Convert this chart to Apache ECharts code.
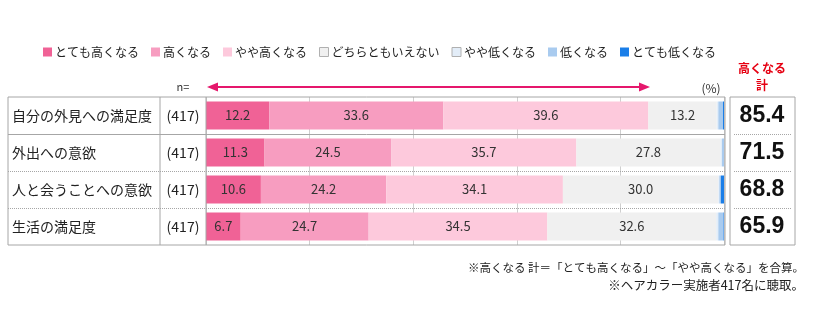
<!DOCTYPE html>
<html>
<head>
<meta charset="utf-8">
<script src="https://cdn.jsdelivr.net/npm/echarts@6/dist/echarts.min.js"></script>
<style>
  html, body { margin: 0; padding: 0; background: #fff; }
  #chart { width: 819px; height: 333px; }
</style>
</head>
<body>
<div id="chart"></div>
<script>
// Survey items (rows, top to bottom)
const categories = ['自分の外見への満足度', '外出への意欲', '人と会うことへの意欲', '生活の満足度'];
const sampleSizes = [417, 417, 417, 417];

// Answer shares (%) per response option
const seriesNames = ['とても高くなる', '高くなる', 'やや高くなる', 'どちらともいえない', 'やや低くなる', '低くなる', 'とても低くなる'];
const veryHigh   = [12.2, 11.3, 10.6, 6.7];
const high       = [33.6, 24.5, 24.2, 24.7];
const slightHigh = [39.6, 35.7, 34.1, 34.5];
const neutral    = [13.2, 27.8, 30.0, 32.6];
const slightLow  = [0.3, 0.3, 0.2, 0.4];
const low        = [0.9, 0.4, 0.3, 1.0];
const veryLow    = [0.2, 0.0, 0.6, 0.1];

// "高くなる 計" totals as published
const totals = [85.4, 71.5, 68.8, 65.9];

const xTicks = [0, 20, 40, 60, 80, 100];

const colors = ['#f06296', '#f79dc0', '#fdc9dc', '#f0f0f0', '#e3edf8', '#a9cbef', '#1a7ee8'];
const values = [veryHigh, high, slightHigh, neutral, slightLow, low, veryLow];

const FONT = '"Noto Sans CJK JP", "Noto Sans", sans-serif';

// table layout
const L = 8, COL1 = 160, COL2 = 206, R = 725, TOP = 97, BOT = 245;
const rowH = (BOT - TOP) / categories.length;

const chart = echarts.init(document.getElementById('chart'));

const series = seriesNames.map((name, i) => ({
  name,
  type: 'bar',
  stack: 'total',
  barWidth: 28,
  data: values[i],
  itemStyle: { color: colors[i] },
  label: {
    show: i < 4,
    position: 'inside',
    color: '#333',
    fontSize: 13,
    fontFamily: FONT,
    formatter: p => p.value.toFixed(1)
  },
  emphasis: { disabled: true },
  silent: true
}));

const legendData = seriesNames.map((name, i) => ({
  name,
  itemStyle: (i === 3 || i === 4) ? { borderColor: '#b0b0b0', borderWidth: 1 } : {}
}));

// arrow spanning the bar area
const ay = 87, ax1 = 207, ax2 = 650;
const arrowColor = '#e5176c';

const graphics = [
  // table frame
  { type: 'rect', shape: { x: L, y: TOP, width: R - L, height: BOT - TOP }, style: { fill: 'none', stroke: '#a6a6a6', lineWidth: 1 }, z: 10 },
  { type: 'line', shape: { x1: COL1, y1: TOP, x2: COL1, y2: BOT }, style: { stroke: '#a6a6a6', lineWidth: 1 }, z: 10 },
  { type: 'line', shape: { x1: COL2, y1: TOP, x2: COL2, y2: BOT }, style: { stroke: '#a6a6a6', lineWidth: 1 }, z: 10 },
  // totals box
  { type: 'rect', shape: { x: 730, y: TOP, width: 65, height: BOT - TOP }, style: { fill: 'none', stroke: '#a6a6a6', lineWidth: 1 }, z: 10 },
  // header texts
  { type: 'text', style: { text: 'n=', x: 183, y: ay, fontSize: 11, fontFamily: FONT, fill: '#333', align: 'center', verticalAlign: 'middle' } },
  { type: 'text', style: { text: '(%)', x: 711, y: ay + 1, fontSize: 12, fontFamily: FONT, fill: '#333', align: 'center', verticalAlign: 'middle' } },
  { type: 'text', style: { text: '高くなる', x: 762, y: 68, fontSize: 12, fontWeight: 'bold', fontFamily: FONT, fill: '#e60012', align: 'center', verticalAlign: 'middle' } },
  { type: 'text', style: { text: '計', x: 762, y: 85, fontSize: 12, fontWeight: 'bold', fontFamily: FONT, fill: '#e60012', align: 'center', verticalAlign: 'middle' } },
  // arrow
  { type: 'line', shape: { x1: ax1 + 8, y1: ay, x2: ax2 - 8, y2: ay }, style: { stroke: arrowColor, lineWidth: 2 } },
  { type: 'polygon', shape: { points: [[ax1, ay], [ax1 + 11, ay - 4.5], [ax1 + 11, ay + 4.5]] }, style: { fill: arrowColor } },
  { type: 'polygon', shape: { points: [[ax2, ay], [ax2 - 11, ay - 4.5], [ax2 - 11, ay + 4.5]] }, style: { fill: arrowColor } },
  // footnotes
  { type: 'text', style: { text: '※高くなる 計＝「とても高くなる」～「やや高くなる」を合算。', x: 804, y: 268, fontSize: 11.5, fontFamily: FONT, fill: '#222', align: 'right', verticalAlign: 'middle' } },
  { type: 'text', style: { text: '※ヘアカラー実施者417名に聴取。', x: 804, y: 285, fontSize: 12.5, fontFamily: FONT, fill: '#222', align: 'right', verticalAlign: 'middle' } }
];

// row separators
for (let r = 1; r < categories.length; r++) {
  const y = Math.round(TOP + rowH * r) + 0.5;
  const dash = r === 1 ? null : [1, 1];
  graphics.push({ type: 'line', shape: { x1: L, y1: y, x2: R, y2: y }, style: { stroke: '#a6a6a6', lineWidth: 1, lineDash: dash }, z: 10 });
  graphics.push({ type: 'line', shape: { x1: 734, y1: y, x2: 791, y2: y }, style: { stroke: '#a6a6a6', lineWidth: 1, lineDash: [1, 1] }, z: 10 });
}

chart.setOption({
  animation: false,
  textStyle: { fontFamily: FONT },
  legend: {
    data: legendData,
    top: 41,
    left: 38,
    itemWidth: 9,
    itemHeight: 9,
    itemGap: 12,
    icon: 'rect',
    selectedMode: false,
    textStyle: { fontSize: 12, color: '#222', fontFamily: FONT, padding: [0, 0, 0, -2] }
  },
  grid: { left: COL2, right: 819 - 724, top: TOP, bottom: 333 - BOT },
  xAxis: {
    type: 'value',
    min: xTicks[0],
    max: xTicks[xTicks.length - 1],
    interval: xTicks[1] - xTicks[0],
    axisLabel: { show: false },
    axisLine: { show: false },
    axisTick: { show: false },
    splitLine: { show: true, lineStyle: { color: '#cfcfcf', width: 1 } }
  },
  yAxis: [
    {
      type: 'category',
      data: categories,
      inverse: true,
      axisLine: { show: false },
      axisTick: { show: false },
      axisLabel: {
        align: 'left',
        margin: COL2 - 12,
        formatter: (v, i) => `{name|${v}}{n|(${sampleSizes[i]})}`,
        rich: {
          name: { width: COL1 - 12, fontSize: 14, color: '#222', fontFamily: FONT, align: 'left' },
          n: { width: COL2 - COL1, fontSize: 14, color: '#222', fontFamily: FONT, align: 'center' }
        }
      }
    },
    {
      type: 'category',
      data: categories,
      inverse: true,
      position: 'right',
      axisLine: { show: false },
      axisTick: { show: false },
      axisLabel: {
        align: 'center',
        margin: 762 - 724,
        formatter: (v, i) => totals[i].toFixed(1),
        fontSize: 23,
        fontWeight: 'bold',
        color: '#111',
        fontFamily: '"Liberation Sans", Arial, sans-serif'
      }
    }
  ],
  series,
  graphic: graphics
});
</script>
</body>
</html>
